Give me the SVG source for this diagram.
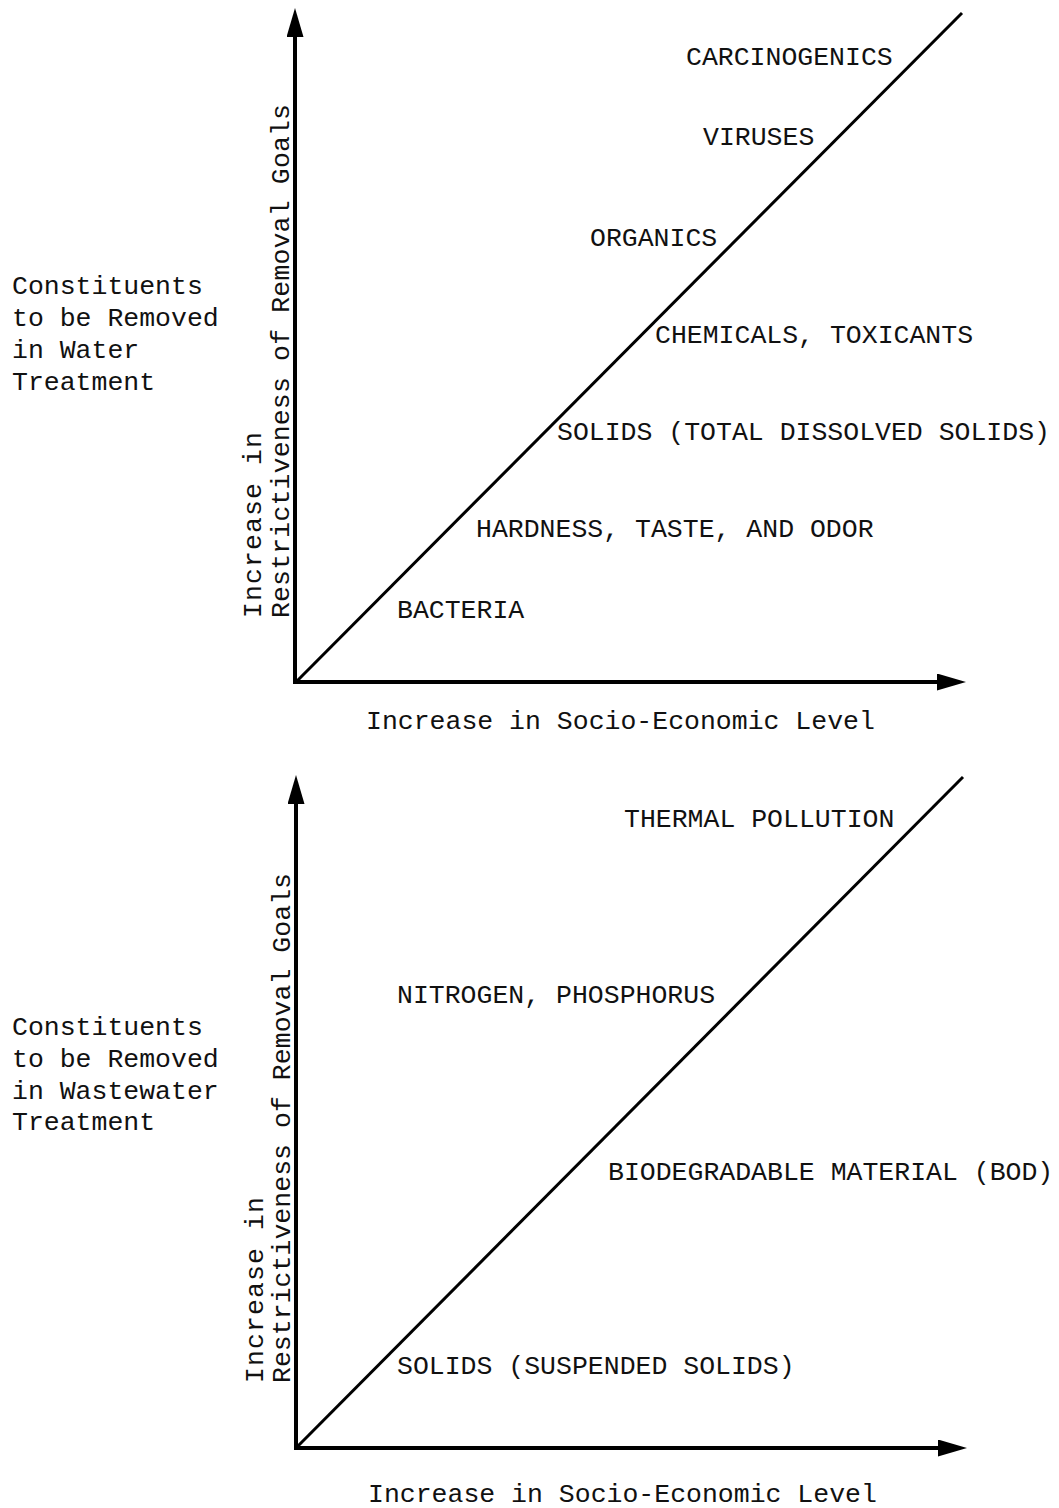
<svg xmlns="http://www.w3.org/2000/svg" width="1059" height="1508" viewBox="0 0 1059 1508">
<style>
text{font-family:"Liberation Mono","DejaVu Sans Mono",monospace;font-size:26.5px;fill:#111}
.axis{stroke:#000;stroke-width:4;fill:none}
.diag{stroke:#000;stroke-width:3;fill:none}
</style>
<defs>
<marker id="arr" markerUnits="userSpaceOnUse" markerWidth="32" markerHeight="18" refX="2" refY="8.5" orient="auto">
<path d="M0,0 L29,8.5 L0,17 z" fill="#000"/>
</marker>
</defs>
<rect width="1059" height="1508" fill="#fff"/>
<g id="connectors">
<line class="axis" x1="295" y1="684" x2="295" y2="35" marker-end="url(#arr)"/>
<line class="axis" x1="293" y1="682" x2="939" y2="682" marker-end="url(#arr)"/>
<line class="diag" x1="296" y1="682" x2="962" y2="13"/>
<line class="axis" x1="296" y1="1450" x2="296" y2="802" marker-end="url(#arr)"/>
<line class="axis" x1="294" y1="1448" x2="940" y2="1448" marker-end="url(#arr)"/>
<line class="diag" x1="297" y1="1447" x2="963" y2="777"/>
</g>
<g id="water-title"><text x="12" y="294">Constituents</text><text x="12" y="326">to be Removed</text><text x="12" y="358">in Water</text><text x="12" y="390">Treatment</text></g>
<g id="water-yaxis-label"><text transform="translate(261,618) rotate(-90)" textLength="186" lengthAdjust="spacing">Increase in</text><text transform="translate(289,618) rotate(-90)" textLength="514" lengthAdjust="spacing">Restrictiveness of Removal Goals</text></g>
<g id="water-xaxis-label"><text x="366" y="729">Increase in Socio-Economic Level</text></g>
<g id="carcinogenics"><text x="686" y="65">CARCINOGENICS</text></g>
<g id="viruses"><text x="703" y="145">VIRUSES</text></g>
<g id="organics"><text x="590" y="246">ORGANICS</text></g>
<g id="chemicals"><text x="655" y="343">CHEMICALS, TOXICANTS</text></g>
<g id="tds"><text x="557" y="440">SOLIDS (TOTAL DISSOLVED SOLIDS)</text></g>
<g id="hardness"><text x="476" y="537">HARDNESS, TASTE, AND ODOR</text></g>
<g id="bacteria"><text x="397" y="618">BACTERIA</text></g>
<g id="wastewater-title"><text x="12" y="1035">Constituents</text><text x="12" y="1067">to be Removed</text><text x="12" y="1099">in Wastewater</text><text x="12" y="1130">Treatment</text></g>
<g id="wastewater-yaxis-label"><text transform="translate(263,1383) rotate(-90)" textLength="186" lengthAdjust="spacing">Increase in</text><text transform="translate(290,1383) rotate(-90)" textLength="510" lengthAdjust="spacing">Restrictiveness of Removal Goals</text></g>
<g id="wastewater-xaxis-label"><text x="368" y="1502">Increase in Socio-Economic Level</text></g>
<g id="thermal"><text x="624" y="827">THERMAL POLLUTION</text></g>
<g id="nutrients"><text x="397" y="1003">NITROGEN, PHOSPHORUS</text></g>
<g id="bod"><text x="608" y="1180">BIODEGRADABLE MATERIAL (BOD)</text></g>
<g id="tss"><text x="397" y="1374">SOLIDS (SUSPENDED SOLIDS)</text></g>
</svg>
